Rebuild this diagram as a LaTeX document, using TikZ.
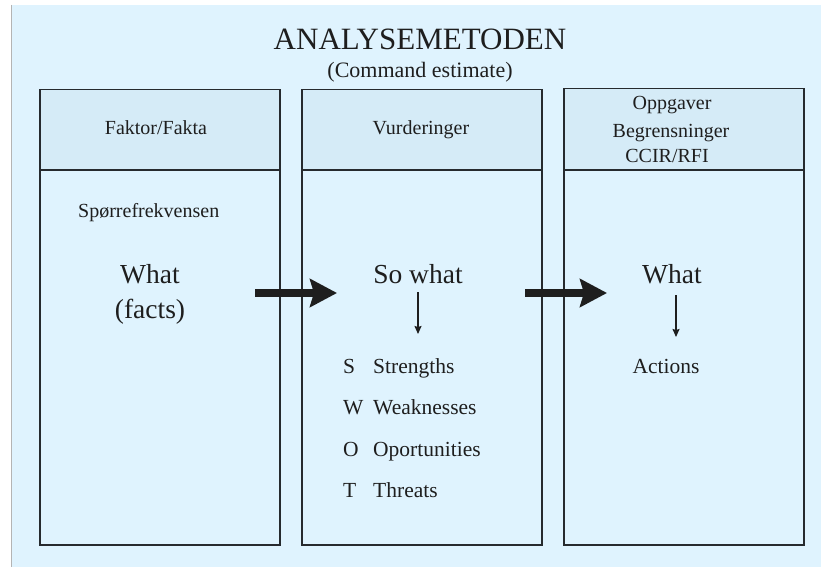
\documentclass[tikz,border=0pt]{standalone}
\usepackage{fontspec}
\setmainfont{Liberation Serif}
\usetikzlibrary{arrows.meta}
\definecolor{bgblue}{RGB}{223,243,254}
\definecolor{hdrblue}{RGB}{213,235,247}
\definecolor{edgecol}{RGB}{38,42,46}
\definecolor{ink}{RGB}{30,30,30}
\definecolor{leftline}{RGB}{180,180,180}
\begin{document}
\begin{tikzpicture}[x=1pt,y=-1pt,
  hdr/.style={draw=edgecol, line width=1.5pt, fill=hdrblue, minimum width=240pt, minimum height=80pt, anchor=north west, inner sep=0pt},
  bodybox/.style={draw=edgecol, line width=1.5pt, fill=bgblue, minimum width=240pt, minimum height=375pt, anchor=north west, inner sep=0pt},
  txt/.style={text=ink, inner sep=0pt, anchor=base},
  hdrtxt/.style={txt, font=\fontsize{20}{24}\selectfont},
  bigtxt/.style={txt, font=\fontsize{27.5}{32}\selectfont},
  listtxt/.style={txt, anchor=base west, font=\fontsize{21.5}{26}\selectfont},
  bigarrow/.style={line width=8pt, draw=ink, -{Stealth[length=27pt,width=28pt,inset=4pt]}},
  smallarrow/.style={line width=1.3pt, draw=ink, -{Stealth[length=8pt,width=7pt,inset=1pt]}}
]
\useasboundingbox (0,0) rectangle (821,567);
\fill[white] (0,0) rectangle (821,567);
\fill[bgblue] (12,5) rectangle (821,567);
\draw[leftline, line width=1pt] (11.5,5) -- (11.5,567);

% title
\node[txt, font=\fontsize{31}{36}\selectfont] (title) at (420,50) {ANALYSEMETODEN};
\node[txt, font=\fontsize{22}{26}\selectfont] (subtitle) at (420,78) {(Command estimate)};

% boxes
\node[bodybox] (b1) at (39,169) {};
\node[hdr] (h1) at (39,89) {};
\node[bodybox] (b2) at (301,169) {};
\node[hdr] (h2) at (301,89) {};
\node[bodybox] (b3) at (563,169) {};
\node[hdr, minimum height=81pt] (h3) at (563,88) {};

% headers
\node[hdrtxt] (t1) at (156,135) {Faktor/Fakta};
\node[hdrtxt] (t2) at (421,135) {Vurderinger};
\node[hdrtxt] (t3a) at (672,110) {Oppgaver};
\node[hdrtxt] (t3b) at (671,137) {Begrensninger};
\node[hdrtxt] (t3c) at (667,162) {CCIR/RFI};

% column 1
\node[txt, anchor=base west, font=\fontsize{20}{24}\selectfont] (q) at (78,217) {Spørrefrekvensen};
\node[bigtxt] (what1) at (150,283) {What};
\node[bigtxt] (facts) at (150,318) {(facts)};

% column 2
\node[bigtxt] (sowhat) at (418,283) {So what};
\coordinate (sw1) at (418,292);
\coordinate (sw2) at (418,334);
\draw[smallarrow] (sw1) -- (sw2);
\node[listtxt] (ls) at (343,373) {S};
\node[listtxt] (ws) at (373,373) {Strengths};
\node[listtxt] (lw) at (343,414) {W};
\node[listtxt] (ww) at (373,414) {Weaknesses};
\node[listtxt] (lo) at (343,456) {O};
\node[listtxt] (wo) at (373,456) {Oportunities};
\node[listtxt] (lt) at (343,497) {T};
\node[listtxt] (wt) at (373,497) {Threats};

% column 3
\node[bigtxt] (what3) at (672,283) {What};
\coordinate (w1) at (676,295);
\coordinate (w2) at (676,337);
\draw[smallarrow] (w1) -- (w2);
\node[txt, font=\fontsize{21.5}{26}\selectfont] (actions) at (666,373) {Actions};

% big arrows
\coordinate (a1s) at (255,293);
\coordinate (a1e) at (337,293);
\coordinate (a2s) at (525,293);
\coordinate (a2e) at (607,293);
\draw[bigarrow] (a1s) -- (a1e);
\draw[bigarrow] (a2s) -- (a2e);
\end{tikzpicture}
\end{document}
